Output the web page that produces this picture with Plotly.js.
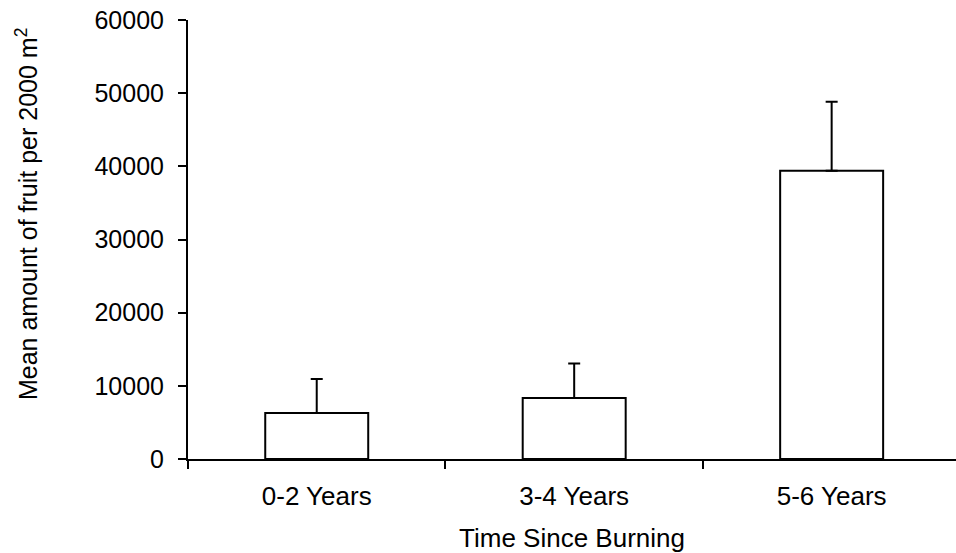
<!DOCTYPE html>
<html>
<head>
<meta charset="utf-8">
<script src="https://cdn.plot.ly/plotly-3.0.1.min.js"></script>
<style>html,body{margin:0;padding:0;background:#fff;}#chart{width:956px;height:553px;}</style>
</head>
<body>
<div id="chart"></div>
<script>
var categories = ["0-2 Years", "3-4 Years", "5-6 Years"];
var meanFruit = [6300, 8350, 39400];
var errorUp = [4650, 4700, 9430];
var errorDown = [0, 0, 0];
var yTickVals = [0, 10000, 20000, 30000, 40000, 50000, 60000];
var yTickText = ["0", "10000", "20000", "30000", "40000", "50000", "60000"];
var xTitle = "Time Since Burning";
var yTitle = "Mean amount of fruit per 2000 m<sup>2</sup>";

var font = "Liberation Sans, Arial, sans-serif";

var trace = {
  type: "bar",
  x: categories,
  y: meanFruit,
  width: 0.4,
  marker: {color: "#ffffff", line: {color: "#000000", width: 2}},
  error_y: {type: "data", symmetric: false, array: errorUp, arrayminus: errorDown,
            color: "#000000", thickness: 2, width: 6},
  hoverinfo: "none"
};

var layout = {
  width: 956, height: 553,
  margin: {l: 188, r: 0, t: 20, b: 94, pad: 0},
  paper_bgcolor: "#ffffff", plot_bgcolor: "#ffffff",
  showlegend: false,
  font: {family: font, size: 24, color: "#000000"},
  xaxis: {
    type: "category",
    range: [-0.5, 2.483],
    tickson: "boundaries",
    ticks: "outside", ticklen: 8, tickwidth: 2, tickcolor: "#000",
    ticklabelstandoff: 13,
    showline: true, linecolor: "#000", linewidth: 2,
    showgrid: false, zeroline: false,
    tickfont: {family: font, size: 26},
    title: {text: xTitle, font: {family: font, size: 26}, standoff: 20}
  },
  yaxis: {
    range: [0, 60000],
    tickvals: yTickVals, ticktext: yTickText,
    ticks: "outside", ticklen: 8, tickwidth: 2, tickcolor: "#000",
    ticklabelstandoff: 9,
    showline: true, linecolor: "#000", linewidth: 2,
    showgrid: false, zeroline: false,
    tickfont: {family: font, size: 25}
  },
  annotations: [{
    text: yTitle, textangle: -90, showarrow: false,
    xref: "paper", yref: "paper",
    x: -0.2096, y: 0.558, xanchor: "center", yanchor: "middle",
    font: {family: font, size: 25, color: "#000"}
  }]
};

Plotly.newPlot("chart", [trace], layout, {staticPlot: true, displayModeBar: false});
</script>
</body>
</html>
